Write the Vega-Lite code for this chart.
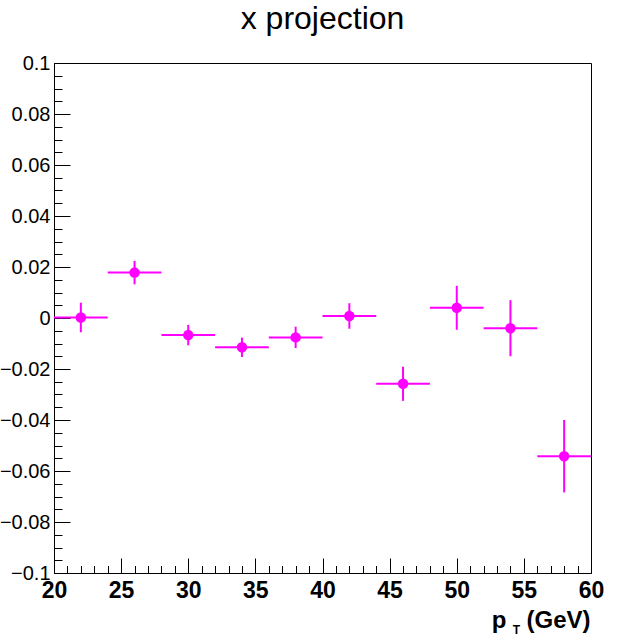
{
  "$schema": "https://vega.github.io/schema/vega-lite/v6.json",
  "width": 537,
  "height": 510,
  "autosize": {"type": "none"},
  "padding": {"left": 54, "top": 63, "right": 28, "bottom": 66},
  "background": "white",
  "title": {"text": "x projection", "font": "Liberation Sans", "fontSize": 32, "fontWeight": "normal", "color": "black", "anchor": "middle", "baseline": "alphabetic", "offset": -8},
  "config": {
    "view": {"stroke": "black", "strokeWidth": 1},
    "axis": {"grid": false, "domainColor": "black", "domainWidth": 1, "tickColor": "black", "tickWidth": 1, "labelColor": "black", "titleColor": "black", "labelFont": "Liberation Sans", "titleFont": "Liberation Sans"}
  },
  "data": {"values": [
    {"x": 22, "xlo": 20, "xhi": 24, "y": 0.0002, "ylo": -0.0056, "yhi": 0.006},
    {"x": 26, "xlo": 24, "xhi": 28, "y": 0.0178, "ylo": 0.0132, "yhi": 0.0224},
    {"x": 30, "xlo": 28, "xhi": 32, "y": -0.0067, "ylo": -0.0107, "yhi": -0.0027},
    {"x": 34, "xlo": 32, "xhi": 36, "y": -0.0115, "ylo": -0.0153, "yhi": -0.0077},
    {"x": 38, "xlo": 36, "xhi": 40, "y": -0.0076, "ylo": -0.0118, "yhi": -0.0034},
    {"x": 42, "xlo": 40, "xhi": 44, "y": 0.0008, "ylo": -0.0042, "yhi": 0.0058},
    {"x": 46, "xlo": 44, "xhi": 48, "y": -0.0258, "ylo": -0.0325, "yhi": -0.0191},
    {"x": 50, "xlo": 48, "xhi": 52, "y": 0.004, "ylo": -0.0046, "yhi": 0.0126},
    {"x": 54, "xlo": 52, "xhi": 56, "y": -0.004, "ylo": -0.015, "yhi": 0.007},
    {"x": 58, "xlo": 56, "xhi": 60, "y": -0.0542, "ylo": -0.0684, "yhi": -0.04}
  ]},
  "layer": [
    {
      "mark": {"type": "rule", "color": "#ff00ff", "strokeWidth": 2},
      "encoding": {
        "x": {"field": "xlo", "type": "quantitative", "scale": {"domain": [20, 60], "nice": false, "zero": false},
          "axis": {"orient": "bottom", "values": [20, 25, 30, 35, 40, 45, 50, 55, 60], "ticks": false, "domain": true, "labelFontSize": 23, "labelFontWeight": "bold", "labelPadding": 6, "labelFlush": false, "labelOverlap": false,
            "title": "p\u00a0\u00a0\u00a0(GeV)", "titleFontSize": 24, "titleFontWeight": "bold", "titleAnchor": "end", "titleAlign": "right", "titleBaseline": "alphabetic", "titleX": 536, "titleY": 54}},
        "x2": {"field": "xhi"},
        "y": {"field": "y", "type": "quantitative", "scale": {"domain": [-0.1, 0.1], "nice": false, "zero": false},
          "axis": {"orient": "left", "values": [-0.1, -0.08, -0.06, -0.04, -0.02, 0, 0.02, 0.04, 0.06, 0.08, 0.1], "ticks": false, "domain": true, "labelFontSize": 20, "labelPadding": 4, "labelFlush": false, "labelOverlap": false, "labelExpr": "replace(format(datum.value, '.2~f'), '-', '\u2212')", "title": null}}
      }
    },
    {
      "mark": {"type": "rule", "color": "#ff00ff", "strokeWidth": 2},
      "encoding": {
        "x": {"field": "x", "type": "quantitative",
          "axis": {"orient": "bottom", "values": [20, 25, 30, 35, 40, 45, 50, 55, 60], "ticks": true, "tickSize": -15, "labels": false, "domain": false,
            "title": "T", "titleFontSize": 12, "titleFontWeight": "bold", "titleAlign": "center", "titleBaseline": "alphabetic", "titleX": 462, "titleY": 60}},
        "y": {"field": "ylo", "type": "quantitative",
          "axis": {"orient": "left", "values": [-0.1, -0.08, -0.06, -0.04, -0.02, 0, 0.02, 0.04, 0.06, 0.08, 0.1], "ticks": true, "tickSize": -16, "labels": false, "domain": false, "title": null}},
        "y2": {"field": "yhi"}
      }
    },
    {
      "mark": {"type": "point", "shape": "circle", "filled": true, "color": "#ff00ff", "size": 110, "opacity": 1},
      "encoding": {
        "x": {"field": "x", "type": "quantitative",
          "axis": {"orient": "bottom", "values": [21, 22, 23, 24, 26, 27, 28, 29, 31, 32, 33, 34, 36, 37, 38, 39, 41, 42, 43, 44, 46, 47, 48, 49, 51, 52, 53, 54, 56, 57, 58, 59], "ticks": true, "tickSize": -7.5, "labels": false, "domain": false, "title": null}},
        "y": {"field": "y", "type": "quantitative",
          "axis": {"orient": "left", "values": [-0.095, -0.09, -0.085, -0.075, -0.07, -0.065, -0.055, -0.05, -0.045, -0.035, -0.03, -0.025, -0.015, -0.01, -0.005, 0.005, 0.01, 0.015, 0.025, 0.03, 0.035, 0.045, 0.05, 0.055, 0.065, 0.07, 0.075, 0.085, 0.09, 0.095], "ticks": true, "tickSize": -8, "labels": false, "domain": false, "title": null}}
      }
    }
  ],
  "resolve": {"axis": {"x": "independent", "y": "independent"}}
}
